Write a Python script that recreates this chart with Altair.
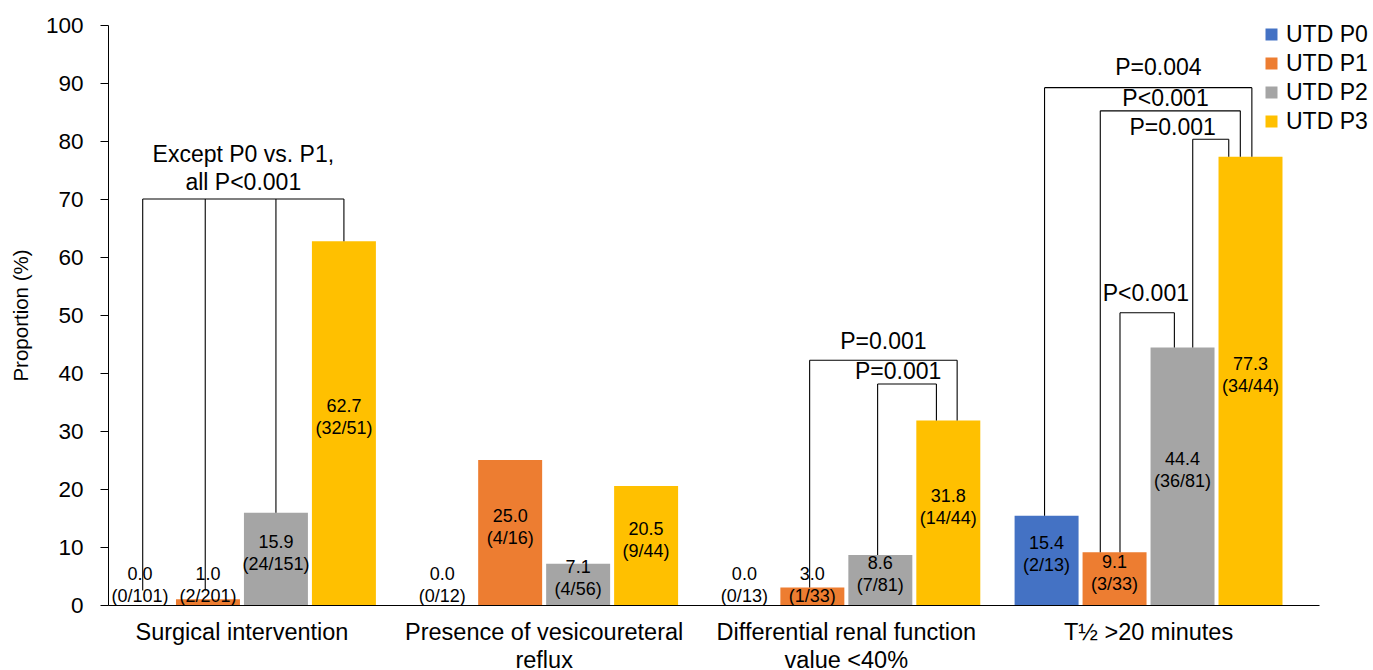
import altair as alt
import pandas as pd

FONT = "Liberation Sans"

# Outcomes (x categories) and UTD groups (series)
categories = [
    "Surgical intervention",
    "Presence of vesicoureteral reflux",
    "Differential renal function value <40%",
    "T½ >20 minutes",
]
series = ["UTD P0", "UTD P1", "UTD P2", "UTD P3"]
colors = ["#4472C4", "#ED7D31", "#A5A5A5", "#FFC000"]

# Proportions (%) per group, one entry per outcome
pct_p0 = [0.0, 0.0, 0.0, 15.4]
pct_p1 = [1.0, 25.0, 3.0, 9.1]
pct_p2 = [15.9, 7.1, 8.6, 44.4]
pct_p3 = [62.7, 20.5, 31.8, 77.3]

# Events / total per group, one entry per outcome
cnt_p0 = ["0/101", "0/12", "0/13", "2/13"]
cnt_p1 = ["2/201", "4/16", "1/33", "3/33"]
cnt_p2 = ["24/151", "4/56", "7/81", "36/81"]
cnt_p3 = ["32/51", "9/44", "14/44", "34/44"]

# Two-line axis labels for the long outcome names
wrapped = {
    "Presence of vesicoureteral reflux": ["Presence of vesicoureteral", "reflux"],
    "Differential renal function value <40%": ["Differential renal function", "value <40%"],
}

# Significance brackets:
# (outcome index, [(group index, leg shift), ...], bracket level, text, text shift, text lift)
brackets = [
    (0, [(0, 0.04), (1, -0.04), (2, 0.0), (3, 0.0)], 70.0, "Except P0 vs. P1,\nall P<0.001", 0.0, 7.6),
    (2, [(1, -0.04), (3, 0.13)], 42.2, "P=0.001", 0.0, 3.1),
    (2, [(2, -0.04), (3, -0.175)], 38.1, "P=0.001", -0.13, 2.1),
    (3, [(0, -0.03), (3, 0.02)], 89.2, "P=0.004", 0.15, 3.4),
    (3, [(1, -0.21), (3, -0.15)], 85.2, "P<0.001", -0.07, 2.0),
    (3, [(2, 0.15), (3, -0.32)], 80.3, "P=0.001", -0.56, 2.0),
    (3, [(1, 0.08), (2, -0.12)], 50.4, "P<0.001", -0.02, 3.2),
]

# ---------------------------------------------------------------- tables
pcts = [pct_p0, pct_p1, pct_p2, pct_p3]
cnts = [cnt_p0, cnt_p1, cnt_p2, cnt_p3]

rows = []
for si, s in enumerate(series):
    for ci, c in enumerate(categories):
        v = pcts[si][ci]
        rows.append({
            "category": c,
            "series": s,
            "value": v,
            "label": f"{v:.1f}\n({cnts[si][ci]})",
        })
bars_df = pd.DataFrame(rows)

# band layout shared by the bars and the bracket overlay
PAD_INNER = 0.1135
PAD_OUTER = 0.0604
SUB_PAD = 0.0588
n_cat = len(categories)
span = n_cat - PAD_INNER + 2 * PAD_OUTER
sub_step = (1 - PAD_INNER) / (len(series) - SUB_PAD)


def slot_x(ci, si, shift=0.0):
    return ci + sub_step * (si + (1 - SUB_PAD) / 2 + shift)


segs = []
texts = []
for ci, legs, level, text, tshift, lift in brackets:
    xs = [slot_x(ci, si, sh) for si, sh in legs]
    segs.append({"x": min(xs), "x2": max(xs), "y": level, "y2": level})
    for (si, sh), x in zip(legs, xs):
        top = max(pcts[si][ci], 2.5)
        segs.append({"x": x, "x2": x, "y": level, "y2": top})
    texts.append({
        "x": (min(xs) + max(xs)) / 2 + tshift * sub_step,
        "y": level + lift,
        "text": text,
    })
seg_df = pd.DataFrame(segs)
txt_df = pd.DataFrame(texts)

# ---------------------------------------------------------------- scales / axes
x_scale = alt.Scale(domain=categories, paddingInner=PAD_INNER, paddingOuter=PAD_OUTER,
                    align=0, round=False)
xoff_scale = alt.Scale(domain=series, paddingInner=SUB_PAD, paddingOuter=0, round=False)
y_scale = alt.Scale(domain=[0, 100], nice=False)
bx_scale = alt.Scale(domain=[0, span], nice=False, zero=False)

label_expr = "datum.label"
for full, lines in wrapped.items():
    arr = "[" + ", ".join(f"'{l}'" for l in lines) + "]"
    label_expr = f"datum.value == '{full}' ? {arr} : ({label_expr})"

x_axis = alt.Axis(
    title=None, ticks=False, labelAngle=0, labelFont=FONT, labelFontSize=23.5,
    labelColor="black", labelPadding=15, labelLimit=400, labelLineHeight=28,
    labelExpr=label_expr, domainColor="black", domainWidth=1, grid=False,
)
y_axis = alt.Axis(
    title="Proportion (%)", values=list(range(0, 101, 10)), grid=False,
    labelFont=FONT, labelFontSize=22.5, labelColor="black", labelPadding=17,
    tickSize=8, tickColor="black", tickWidth=1, domainColor="black", domainWidth=1,
    titleFont=FONT, titleFontSize=20.5, titleFontWeight="normal", titleColor="black",
    titlePadding=14,
)

# ---------------------------------------------------------------- layers
bars = alt.Chart(bars_df).mark_bar().encode(
    x=alt.X("category:N", scale=x_scale, axis=x_axis),
    xOffset=alt.XOffset("series:N", scale=xoff_scale),
    y=alt.Y("value:Q", scale=y_scale, axis=y_axis),
    color=alt.Color(
        "series:N",
        scale=alt.Scale(domain=series, range=colors),
        legend=alt.Legend(
            title=None, orient="none", legendX=1152, legendY=-2, padding=0,
            symbolType="square", symbolSize=144, symbolStrokeWidth=0,
            labelFont=FONT, labelFontSize=23, labelColor="black",
            labelOffset=3, rowPadding=5,
        ),
    ),
)

bar_labels = alt.Chart(bars_df).transform_calculate(
    label_y="max(datum.value / 2 + 2.75, 5.25)"
).mark_text(
    font=FONT, fontSize=18, lineHeight=22, lineBreak="\n", baseline="middle",
    align="center", color="black",
).encode(
    x=alt.X("category:N", scale=x_scale, axis=x_axis),
    xOffset=alt.XOffset("series:N", scale=xoff_scale),
    y=alt.Y("label_y:Q", scale=y_scale, axis=y_axis),
    text="label:N",
)

rules = alt.Chart(seg_df).mark_rule(color="black", strokeWidth=1.1).encode(
    x=alt.X("x:Q", scale=bx_scale, axis=None),
    x2="x2:Q",
    y=alt.Y("y:Q", scale=y_scale, axis=y_axis),
    y2="y2:Q",
)

rule_text = alt.Chart(txt_df).mark_text(
    font=FONT, fontSize=23, lineHeight=28, lineBreak="\n", baseline="middle",
    align="center", color="black",
).encode(
    x=alt.X("x:Q", scale=bx_scale, axis=None),
    y=alt.Y("y:Q", scale=y_scale, axis=y_axis),
    text="text:N",
)

chart = alt.layer(
    alt.layer(bars, bar_labels),
    alt.layer(rules, rule_text),
).resolve_scale(x="independent").properties(
    width=1211,
    height=580,
    padding={"left": 108, "top": 25, "right": 54, "bottom": 65},
    autosize=alt.AutoSizeParams(type="none"),
    background="white",
).configure_view(stroke=None)

chart.save("out.html", embed_options={"renderer": "svg", "actions": False})
